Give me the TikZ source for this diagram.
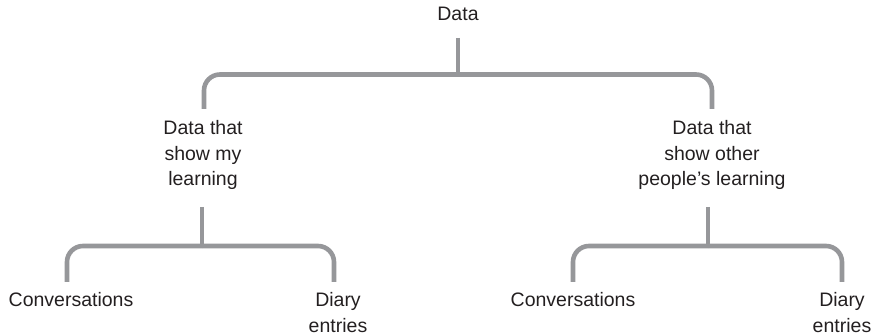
\documentclass[tikz,border=0pt]{standalone}
\usepackage{fontspec}
\setmainfont{Liberation Sans}
\definecolor{brgray}{RGB}{150,151,154}
\definecolor{txtcol}{RGB}{35,31,32}
\begin{document}
\begin{tikzpicture}[x=1pt,y=-1pt,
  lbl/.style={font=\fontsize{19.5pt}{25.5pt}\selectfont, text=txtcol, align=center, inner sep=0pt},
  br/.style={draw=brgray, line width=4.6pt, rounded corners=16pt}]
\useasboundingbox (0,0) rectangle (876,336);
% text nodes
\node[lbl] (data) at (458,14) {Data};
\node[lbl] (mine) at (203,155) {Data that\\show my\\learning};
\node[lbl] (other) at (712,155) {Data that\\show other\\people’s learning};
\node[lbl] (conv1) at (71,300) {Conversations};
\node[lbl] (diary1) at (338,312.5) {Diary\\entries};
\node[lbl] (conv2) at (573,300) {Conversations};
\node[lbl] (diary2) at (842,312.5) {Diary\\entries};
% bracket coordinates
\coordinate (s0) at (458,38);
\coordinate (j0) at (458,74.5);
\coordinate (e01) at (204,109);
\coordinate (e02) at (712,109);
\coordinate (s1) at (202,207);
\coordinate (j1) at (202,246);
\coordinate (e11) at (67,282);
\coordinate (e12) at (334,282);
\coordinate (s2) at (708,207);
\coordinate (j2) at (708,246);
\coordinate (e21) at (573,282);
\coordinate (e22) at (842,282);
% brackets
\draw[br] (s0) -- (j0);
\draw[br] (j0) -| (e01);
\draw[br] (j0) -| (e02);
\draw[br] (s1) -- (j1);
\draw[br] (j1) -| (e11);
\draw[br] (j1) -| (e12);
\draw[br] (s2) -- (j2);
\draw[br] (j2) -| (e21);
\draw[br] (j2) -| (e22);
\end{tikzpicture}
\end{document}
